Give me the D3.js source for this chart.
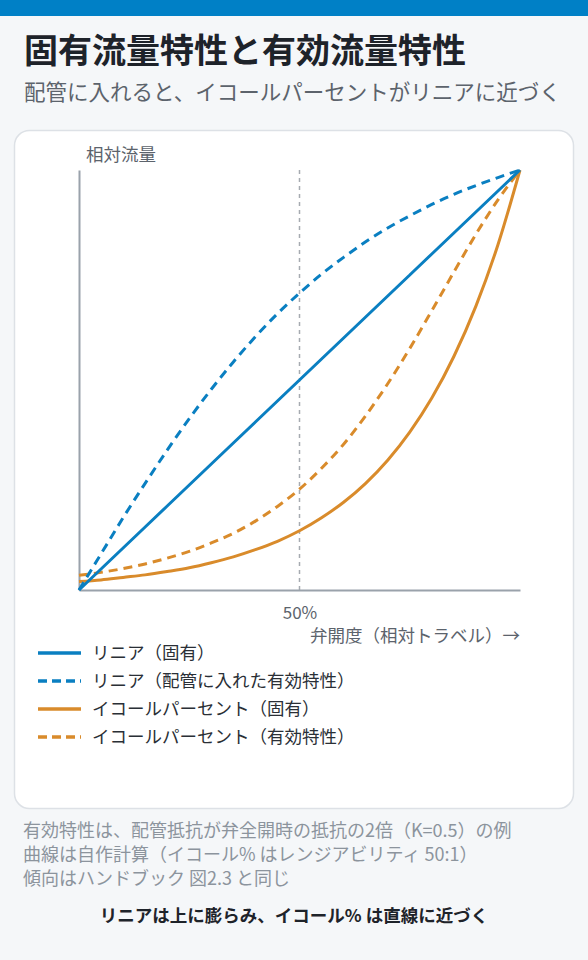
<!DOCTYPE html>
<html><head><meta charset="utf-8">
<script src="https://cdn.jsdelivr.net/npm/d3@7"></script>
<style>
html,body{margin:0;padding:0;background:#f5f7f9;}
svg{display:block;}
</style></head>
<body>
<svg id="chart" width="588" height="960"></svg>
<script>
// Data (relative travel vs relative flow)
const travel = [0,0.05,0.1,0.15,0.2,0.25,0.3,0.35,0.4,0.45,0.5,0.55,0.6,0.65,0.7,0.75,0.8,0.85,0.9,0.95,1];
const linearInherent = [0,0.05,0.1,0.15,0.2,0.25,0.3,0.35,0.4,0.45,0.5,0.55,0.6,0.65,0.7,0.75,0.8,0.85,0.9,0.95,1];
const linearInstalled = [0,0.086,0.172,0.254,0.333,0.408,0.478,0.543,0.603,0.658,0.707,0.752,0.792,0.829,0.862,0.891,0.918,0.942,0.963,0.982,1];
const eqpInherent = [0.020,0.024,0.030,0.036,0.044,0.053,0.065,0.079,0.096,0.116,0.141,0.172,0.209,0.254,0.309,0.376,0.457,0.556,0.676,0.822,1];
const eqpInstalled = [0.035,0.042,0.051,0.062,0.076,0.092,0.112,0.135,0.164,0.199,0.240,0.290,0.347,0.415,0.491,0.575,0.665,0.757,0.847,0.929,1];
const seriesNames = ["リニア（固有）","リニア（配管に入れた有効特性）","イコールパーセント（固有）","イコールパーセント（有効特性）"];
const xTickValues = [0.5];
const xTickLabels = ["50%"];

const BLUE = "#0a7fc1", ORANGE = "#d98b2b";
const series = [
  {name: seriesNames[0], values: linearInherent, color: BLUE, dash: null},
  {name: seriesNames[1], values: linearInstalled, color: BLUE, dash: "9,6"},
  {name: seriesNames[2], values: eqpInherent, color: ORANGE, dash: null},
  {name: seriesNames[3], values: eqpInstalled, color: ORANGE, dash: "9,6"}
];

const svg = d3.select("#chart");
const font = "'Noto Sans CJK JP','Noto Sans',sans-serif";

// top bar
svg.append("rect").attr("x",0).attr("y",0).attr("width",588).attr("height",16).attr("fill","#0080c6");

// title
svg.append("text").attr("x",24).attr("y",63).attr("font-family",font).attr("font-size",34).attr("font-weight",700)
  .attr("fill","#1e232a").text("固有流量特性と有効流量特性");
svg.append("text").attr("x",24).attr("y",100).attr("font-family",font).attr("font-size",21.5)
  .attr("fill","#5c636c").text("配管に入れると、イコールパーセントがリニアに近づく");

// card
svg.append("rect").attr("x",14.5).attr("y",130.5).attr("width",559).attr("height",678).attr("rx",15)
  .attr("fill","#ffffff").attr("stroke","#dde1e6").attr("stroke-width",1.5);

const x = d3.scaleLinear().domain([0,1]).range([79,520]);
const y = d3.scaleLinear().domain([0,1]).range([590,170]);

// 50% guide
svg.append("line").attr("x1",x(0.5)).attr("x2",x(0.5)).attr("y1",y(1)).attr("y2",y(0))
  .attr("stroke","#a6abb1").attr("stroke-width",1.5).attr("stroke-dasharray","4,4");

// axes
const xAxis = svg.append("g").attr("transform",`translate(0,${y(0)})`)
  .call(d3.axisBottom(x).tickValues(xTickValues).tickFormat((d,i)=>xTickLabels[i]).tickSize(0).tickPadding(17));
xAxis.select(".domain").attr("stroke","#9aa2ab").attr("stroke-width",2);
xAxis.selectAll("text").attr("font-family",font).attr("font-size",17).attr("fill","#5c636c");

const yAxis = svg.append("g").attr("transform",`translate(${x(0)},0)`)
  .call(d3.axisLeft(y).tickValues([]).tickSize(0));
yAxis.select(".domain").attr("stroke","#9aa2ab").attr("stroke-width",2);

svg.append("text").attr("x",86).attr("y",161).attr("font-family",font).attr("font-size",17.5)
  .attr("fill","#5c636c").text("相対流量");
svg.append("text").attr("x",520).attr("y",642).attr("text-anchor","end").attr("font-family",font).attr("font-size",17.5)
  .attr("fill","#5c636c").text("弁開度（相対トラベル）→");

// lines
const line = d3.line().x((d,i)=>x(travel[i])).y(d=>y(d)).curve(d3.curveMonotoneX);
const drawOrder = [2,3,0,1];
drawOrder.forEach(k=>{
  const s = series[k];
  svg.append("path").attr("d",line(s.values)).attr("fill","none").attr("stroke",s.color)
    .attr("stroke-width",3).attr("stroke-dasharray",s.dash).attr("stroke-linecap","butt");
});

// legend
const lg = svg.append("g");
series.forEach((s,i)=>{
  const ly = 653 + i*28;
  lg.append("line").attr("x1",38).attr("x2",81).attr("y1",ly).attr("y2",ly)
    .attr("stroke",s.color).attr("stroke-width",3.5).attr("stroke-dasharray",s.dash ? "9,5" : null);
  lg.append("text").attr("x",92).attr("y",ly+6).attr("font-family",font).attr("font-size",17.5)
    .attr("fill","#2a2f36").text(s.name);
});

// notes
const notes = ["有効特性は、配管抵抗が弁全開時の抵抗の2倍（K=0.5）の例","曲線は自作計算（イコール% はレンジアビリティ 50:1）","傾向はハンドブック 図2.3 と同じ"];
notes.forEach((t,i)=>{
  svg.append("text").attr("x",23).attr("y",837+i*24).attr("font-family",font).attr("font-size",18)
    .attr("fill","#8c949d").text(t);
});
svg.append("text").attr("x",294).attr("y",922).attr("text-anchor","middle").attr("font-family",font)
  .attr("font-size",17.5).attr("font-weight",700).attr("fill","#1e232a").text("リニアは上に膨らみ、イコール% は直線に近づく");
</script>
</body></html>
